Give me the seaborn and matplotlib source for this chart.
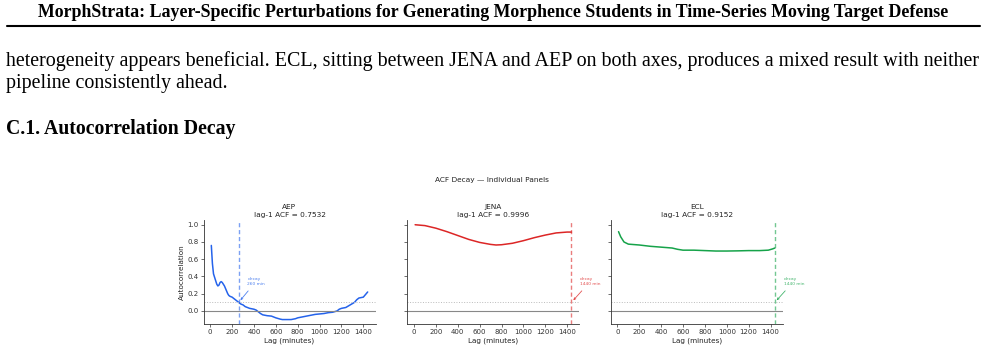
import numpy as np
import pandas as pd
import seaborn as sns
import matplotlib.pyplot as plt

sns.set_style("ticks")
plt.rcParams["font.family"] = ["DejaVu Sans"]

# values
datasets = ["AEP", "JENA", "ECL"]
lag1_acf = [0.7532, 0.9996, 0.9152]
decay_min = [260, 1440, 1440]
colors = ["#2563eb", "#dc2626", "#16a34a"]

aep_lag = [10, 20, 30, 40, 50, 60, 70, 80, 90, 100, 110, 120, 130, 140, 150, 160, 170, 180,
           200, 220, 240, 260, 280, 300, 320, 340, 360, 380, 400, 420, 440, 460, 480, 500,
           520, 560, 600, 640, 660, 700, 740, 780, 800, 840, 880, 920, 960, 1000, 1040,
           1080, 1120, 1160, 1180, 1200, 1240, 1280, 1320, 1340, 1360, 1400, 1420, 1440]
aep_acf = [0.76, 0.55, 0.43, 0.39, 0.35, 0.31, 0.29, 0.30, 0.33, 0.34, 0.33, 0.31, 0.29, 0.26,
           0.23, 0.20, 0.18, 0.17, 0.16, 0.14, 0.12, 0.10, 0.08, 0.07, 0.05, 0.04, 0.03, 0.025,
           0.02, 0.01, -0.01, -0.03, -0.045, -0.05, -0.055, -0.06, -0.08, -0.095, -0.10, -0.10,
           -0.10, -0.09, -0.08, -0.07, -0.06, -0.05, -0.04, -0.035, -0.03, -0.02, -0.015, 0.0,
           0.02, 0.03, 0.04, 0.07, 0.10, 0.13, 0.15, 0.16, 0.19, 0.22]

jena_lag = [10, 100, 200, 300, 400, 500, 600, 700, 750, 800, 900, 1000, 1100, 1200, 1300, 1400, 1440]
jena_acf = [1.00, 0.99, 0.96, 0.92, 0.875, 0.83, 0.795, 0.772, 0.765, 0.768, 0.785, 0.815,
            0.85, 0.88, 0.905, 0.915, 0.915]

ecl_lag = [10, 30, 60, 100, 150, 200, 300, 400, 500, 550, 600, 700, 800, 900, 1000, 1100,
           1200, 1300, 1380, 1420, 1440]
ecl_acf = [0.92, 0.86, 0.80, 0.775, 0.77, 0.765, 0.75, 0.74, 0.73, 0.715, 0.705, 0.705, 0.70,
           0.695, 0.695, 0.697, 0.70, 0.70, 0.705, 0.72, 0.73]

lags = [aep_lag, jena_lag, ecl_lag]
acfs = [aep_acf, jena_acf, ecl_acf]

fig = plt.figure(figsize=(9.86, 3.64), dpi=100)
W, H = 986, 364

# page text around the figure
serif = ["Liberation Serif", "DejaVu Serif"]
fig.text(493 / W, 1 - 12.5 / H,
         "MorphStrata: Layer-Specific Perturbations for Generating Morphence Students in Time-Series Moving Target Defense",
         ha="center", va="center", fontsize=12.85, fontweight="bold", family=serif, color="black")
fig.add_artist(plt.Line2D([7 / W, 980 / W], [1 - 25.5 / H, 1 - 25.5 / H], color="black", lw=1.5))
fig.text(6 / W, 1 - 66 / H,
         "heterogeneity appears beneficial. ECL, sitting between JENA and AEP on both axes, produces a mixed result with neither",
         ha="left", va="baseline", fontsize=14.4, family=serif, color="black")
fig.text(6 / W, 1 - 88 / H, "pipeline consistently ahead.",
         ha="left", va="baseline", fontsize=14.4, family=serif, color="black")
fig.text(6 / W, 1 - 134 / H, "C.1. Autocorrelation Decay",
         ha="left", va="baseline", fontsize=14.25, fontweight="bold", family=serif, color="black")

fig.text(492 / W, 1 - 180 / H, "ACF Decay \u2014 Individual Panels", ha="center", va="center",
         fontsize=5.3, color="#222222")

ax_left = [203.5, 407.3, 610.7]
axes = []
for i, name in enumerate(datasets):
    ax = fig.add_axes([ax_left[i] / W, (H - 324.3) / H, 172 / W, 104.3 / H],
                      sharey=axes[0] if axes else None)
    axes.append(ax)
    df = pd.DataFrame({"lag": lags[i], "acf": acfs[i]})
    sns.lineplot(data=df, x="lag", y="acf", ax=ax, color=colors[i], lw=1.1)
    ax.axhline(0, color="#888888", lw=0.8)
    ax.axhline(0.1, color="#bbbbbb", lw=0.7, ls=":")
    ax.axvline(decay_min[i], color=colors[i], lw=1.0, ls=(0, (3, 2)), alpha=0.6)
    ax.annotate(f"decay\n{decay_min[i]} min", xy=(decay_min[i], 0.1),
                xytext=(decay_min[i] + 80, 0.345), color=colors[i], alpha=0.8,
                fontsize=3.2, ha="left", va="center",
                arrowprops=dict(arrowstyle="->", color=colors[i], lw=0.6, alpha=0.8),
                annotation_clip=False)
    ax.set_title(f"{name}\nlag-1 ACF = {lag1_acf[i]:.4f}", fontsize=5.3, pad=2.5,
                 color="#222222", linespacing=1.3)
    ax.set_xlabel("Lag (minutes)", fontsize=5.2, labelpad=1.5, color="#222222")
    ax.set_ylabel("Autocorrelation" if i == 0 else "", fontsize=5.2, labelpad=2, color="#222222")
    ax.set_xticks([0, 200, 400, 600, 800, 1000, 1200, 1400])
    ax.set_yticks([0.0, 0.2, 0.4, 0.6, 0.8, 1.0])
    ax.tick_params(labelsize=5.0, length=2, width=0.5, pad=1.5, colors="#333333")
    if i > 0:
        ax.tick_params(labelleft=False)
    for s in ax.spines.values():
        s.set_linewidth(0.6)
        s.set_color("#333333")
    sns.despine(ax=ax)

fig.savefig("out.png", dpi=100)
